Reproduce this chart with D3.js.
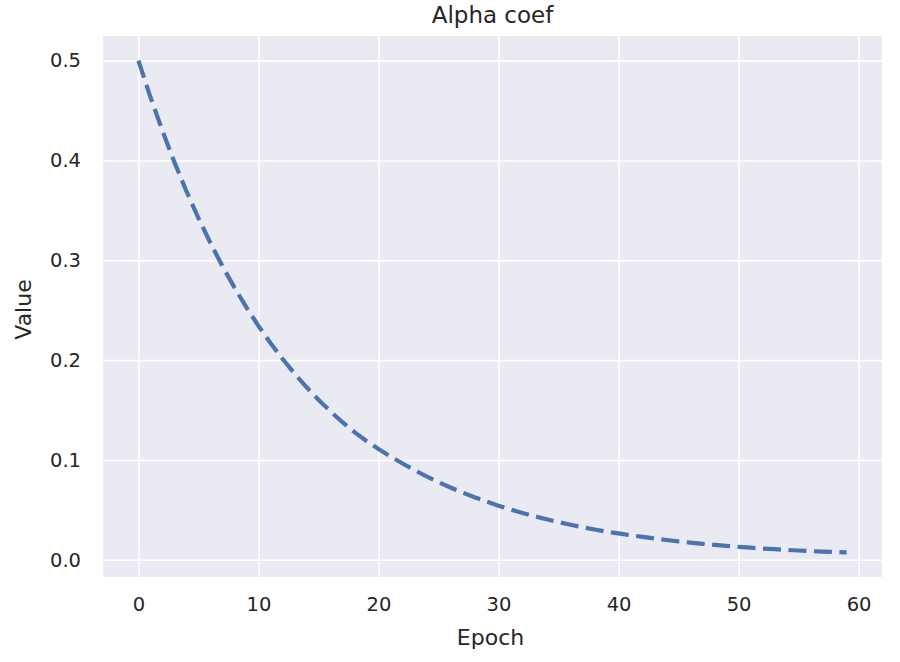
<!DOCTYPE html>
<html><head><meta charset="utf-8">
<script src="https://cdn.jsdelivr.net/npm/d3@7"></script>
<style>body{margin:0;background:#fff}</style>
</head><body>
<svg id="chart" width="900" height="662"></svg>
<script>
const epochs = [0,1,2,3,4,5,6,7,8,9,10,11,12,13,14,15,16,17,18,19,20,21,22,23,24,25,26,27,28,29,30,31,32,33,34,35,36,37,38,39,40,41,42,43,44,45,46,47,48,49,50,51,52,53,54,55,56,57,58,59];
const alphaValues = [0.5000,0.4635,0.4297,0.3983,0.3692,0.3423,0.3173,0.2941,0.2727,0.2528,
  0.2343,0.2172,0.2013,0.1866,0.1730,0.1604,0.1487,0.1378,0.1278,0.1190,
  0.1110,0.1035,0.0965,0.0898,0.0836,0.0778,0.0724,0.0674,0.0627,0.0583,
  0.0542,0.0504,0.0469,0.0436,0.0406,0.0377,0.0351,0.0326,0.0303,0.0282,
  0.0264,0.0246,0.0229,0.0213,0.0198,0.0184,0.0172,0.0160,0.0149,0.0139,
  0.0130,0.0121,0.0113,0.0106,0.0099,0.0093,0.0087,0.0082,0.0078,0.0074];
const xTicks = [0,10,20,30,40,50,60];
const yTicks = [0.0,0.1,0.2,0.3,0.4,0.5];
const title = "Alpha coef", xLabel = "Epoch", yLabel = "Value";

const svg = d3.select("#chart");
const m = {left:103, right:18, top:36, bottom:85};
const W = 900, H = 662;
const iw = W - m.left - m.right, ih = H - m.top - m.bottom;
const g = svg.append("g").attr("transform", `translate(${m.left},${m.top})`);
const font = "DejaVu Sans, sans-serif";
const txt = "#262626";

const [x0,x1] = d3.extent(epochs), xp = (x1-x0)*0.05;
const [y0,y1] = d3.extent(alphaValues), yp = (y1-y0)*0.05;
const x = d3.scaleLinear().domain([x0-xp, x1+xp]).range([0, iw]);
const y = d3.scaleLinear().domain([y0-yp, y1+yp]).range([ih, 0]);

g.append("rect").attr("width", iw).attr("height", ih).attr("fill", "#EAEAF2");

const xa = g.append("g").attr("transform", `translate(0,${ih})`)
  .call(d3.axisBottom(x).tickValues(xTicks).tickSize(-ih).tickPadding(20).tickFormat(d3.format("d")));
const ya = g.append("g")
  .call(d3.axisLeft(y).tickValues(yTicks).tickSize(-iw).tickPadding(22).tickFormat(d3.format(".1f")));
[xa, ya].forEach(a => {
  a.select(".domain").remove();
  a.selectAll(".tick line").attr("stroke", "#fff").attr("stroke-width", 1.6);
  a.selectAll(".tick text").attr("fill", txt).style("font-family", font).style("font-size", "19.5px");
});

const line = d3.line().x((d,i) => x(epochs[i])).y(d => y(d));
g.append("path").datum(alphaValues).attr("d", line)
  .attr("fill", "none").attr("stroke", "#4C72B0").attr("stroke-width", 4.2)
  .attr("stroke-dasharray", "18,7.5");

svg.append("text").attr("x", m.left + iw/2).attr("y", 23).attr("text-anchor", "middle")
  .attr("fill", txt).style("font-family", font).style("font-size", "23px").text(title);
svg.append("text").attr("x", m.left + iw/2 - 2).attr("y", 645).attr("text-anchor", "middle")
  .attr("fill", txt).style("font-family", font).style("font-size", "22px").text(xLabel);
svg.append("text").attr("transform", `translate(31,${m.top + ih/2 + 3}) rotate(-90)`).attr("text-anchor", "middle")
  .attr("fill", txt).style("font-family", font).style("font-size", "22px").text(yLabel);
</script>
</body></html>
